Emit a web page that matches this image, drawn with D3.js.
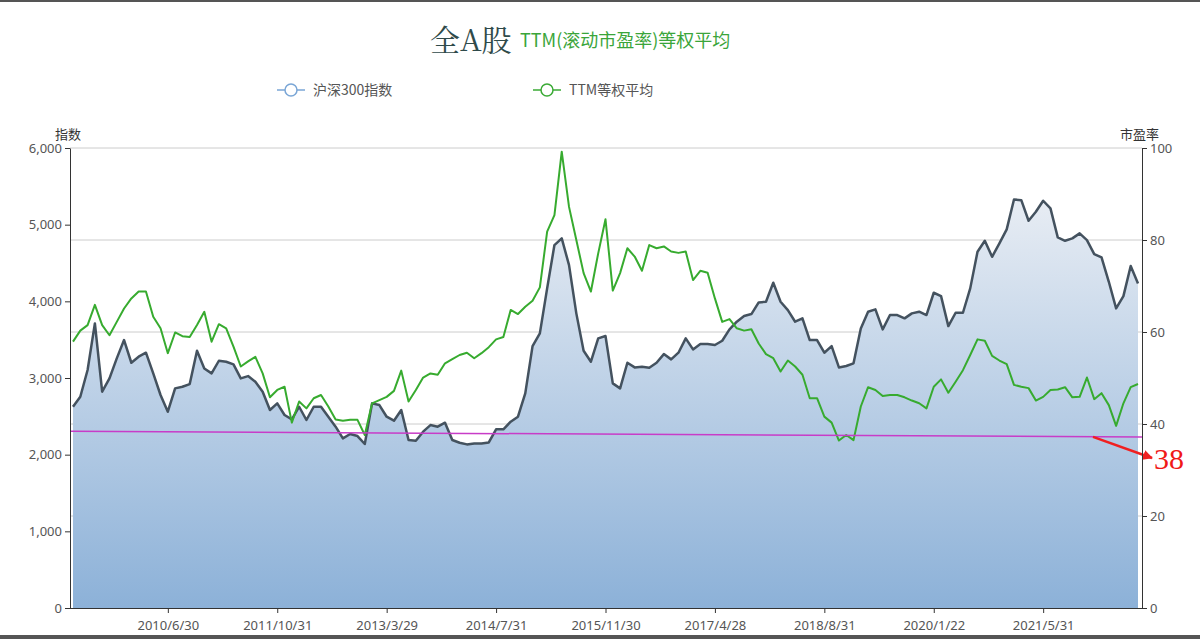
<!DOCTYPE html>
<html><head><meta charset="utf-8">
<script src="https://cdn.jsdelivr.net/npm/d3@7"></script>
<style>body{margin:0;background:#fff;}svg{display:block;font-family:"Noto Sans CJK SC","Noto Sans",sans-serif;}</style>
</head><body><svg id="c" width="1200" height="639"></svg>
<script>
const hs300 = [2625,2756,3104,3712,2821,2995,3256,3495,3199,3278,3330,3060,2778,2560,2865,2886,2921,3356,3125,3060,3225,3212,3178,2995,3025,2951,2821,2582,2669,2517,2460,2625,2452,2625,2625,2495,2365,2213,
2269,2243,2139,2669,2647,2495,2443,2582,2191,2182,2300,2386,2365,2417,2191,2156,2134,2147,2147,2160,2330,2330,2430,2495,2799,3416,3582,4169,4734,4821,4473,3843,3356,3212,3517,3547,
2930,2865,3199,3138,3147,3134,3199,3312,3243,3330,3517,3373,3443,3443,3430,3486,3634,3734,3808,3834,3986,3995,4242,3995,3886,3734,3778,3495,3495,3330,3416,3138,3156,3191,3647,3865,3895,3634,
3821,3821,3778,3843,3865,3821,4112,4068,3677,3851,3851,4169,4647,4790,4581,4755,4938,5329,5320,5051,5168,5312,5212,4834,4790,4821,4886,4799,4616,4573,4255,3908,4068,4460,4234];
const pe = [57.9,60.3,61.5,65.9,61.5,59.3,62.2,65.1,67.3,68.8,68.8,63.3,60.8,55.4,59.9,59.1,58.9,61.5,64.4,57.9,61.7,60.8,56.8,52.5,53.6,54.6,51.0,45.8,47.4,48.1,40.3,44.9,43.4,45.6,46.3,43.8,41.0,40.7,
40.9,40.9,37.6,44.5,45.2,45.9,47.2,51.6,44.9,47.4,50.1,51.0,50.7,53.2,54.1,55.0,55.5,54.3,55.4,56.7,58.4,58.9,64.8,63.9,65.5,66.8,69.7,81.8,85.4,99.2,87.2,80.0,72.8,68.8,77.1,84.5,
69.0,72.8,78.2,76.4,73.3,78.9,78.2,78.6,77.5,77.2,77.5,71.3,73.3,72.9,67.3,62.2,62.8,60.8,60.3,60.6,57.5,55.2,54.3,51.4,53.8,52.5,50.7,45.6,45.6,41.6,40.3,36.4,37.6,36.5,43.8,48.0,47.4,46.1,
46.3,46.3,45.8,45.1,44.5,43.4,48.1,49.7,46.8,49.2,51.7,55.0,58.4,58.1,54.8,53.8,53.0,48.5,48.1,47.8,45.1,45.9,47.4,47.5,48.0,45.8,45.9,50.1,45.4,46.7,44.1,39.6,44.5,48.0,48.7];
const tickLabels = ["2010/6/30","2011/10/31","2013/3/29","2014/7/31","2015/11/30","2017/4/28","2018/8/31","2020/1/22","2021/5/31"];
const tickIndex = [13,28,43,58,73,88,103,118,133];
const refLine = [38.4, 37.2];
const refLabel = "38";

const svg = d3.select("#c");
const L=70,R=1142,T=148,B=608;
const x = d3.scaleLinear().domain([0,hs300.length-1]).range([73,1138]);
const yL = d3.scaleLinear().domain([0,6000]).range([B,T]);
const yR = d3.scaleLinear().domain([0,100]).range([B,T]);

svg.append("rect").attr("x",0).attr("y",0).attr("width",1200).attr("height",2).attr("fill","#555");
svg.append("rect").attr("x",0).attr("y",635).attr("width",1200).attr("height",4).attr("fill","#555");

const defs = svg.append("defs");
const g = defs.append("linearGradient").attr("id","ag").attr("gradientUnits","userSpaceOnUse").attr("x1",0).attr("y1",T).attr("x2",0).attr("y2",B);
g.append("stop").attr("offset","0").attr("stop-color","#f3f4f7");
g.append("stop").attr("offset","1").attr("stop-color","#8cb1d8");

// grid
yR.ticks(5).forEach(t=>{ if(t>0) svg.append("line").attr("x1",L).attr("x2",R).attr("y1",yR(t)).attr("y2",yR(t)).attr("stroke","#ccc"); });

svg.append("path").datum(hs300).attr("fill","url(#ag)")
 .attr("d",d3.area().x((d,i)=>x(i)).y0(B).y1(d=>yL(d)));

svg.append("path").datum(hs300).attr("fill","none").attr("stroke","#44525f").attr("stroke-width",2.5).attr("stroke-linejoin","round")
 .attr("d",d3.line().x((d,i)=>x(i)).y(d=>yL(d)));
svg.append("path").datum(pe).attr("fill","none").attr("stroke","#37ab2f").attr("stroke-width",2).attr("stroke-linejoin","round")
 .attr("d",d3.line().x((d,i)=>x(i)).y(d=>yR(d)));

// ref line
svg.append("line").attr("x1",L).attr("x2",R).attr("y1",yR(refLine[0])).attr("y2",yR(refLine[1])).attr("stroke","#c83cc8").attr("stroke-width",1.5);
defs.append("marker").attr("id","ar").attr("viewBox","0 0 10 10").attr("refX",9).attr("refY",5).attr("markerWidth",4).attr("markerHeight",4).attr("orient","auto")
 .append("path").attr("d","M0,0L10,5L0,10z").attr("fill","#f02020");
svg.append("line").attr("x1",1093).attr("y1",yR(refLine[1])).attr("x2",1152).attr("y2",458).attr("stroke","#f02020").attr("stroke-width",2.5).attr("marker-end","url(#ar)");
svg.append("text").attr("x",1154).attr("y",469).attr("fill","#f01818").attr("font-size",30).attr("font-family","Liberation Serif,serif").text(refLabel);

// axes
const ax = svg.append("g").attr("transform",`translate(${L},0)`).call(d3.axisLeft(yL).tickValues(d3.range(0,6001,1000)).tickFormat(d3.format(",")).tickSize(5).tickSizeOuter(0));
const ar = svg.append("g").attr("transform",`translate(${R},0)`).call(d3.axisRight(yR).ticks(5).tickSize(5).tickSizeOuter(0));
const xb = svg.append("g").attr("transform",`translate(0,${B})`).call(d3.axisBottom(x).tickValues(tickIndex).tickFormat((d,i)=>tickLabels[i]).tickSize(5).tickSizeOuter(0));
xb.select(".domain").attr("d",`M${L},0.5H${R}`);
[ax,ar,xb].forEach(a=>{a.selectAll("path,line").attr("stroke","#333");a.selectAll("text").attr("fill","#555").attr("font-size",13).attr("font-family","Noto Sans,sans-serif");});
xb.selectAll("text").attr("dy","1.1em");

svg.append("text").attr("x",55).attr("y",139).attr("font-size",13).attr("fill","#333").text("指数");
svg.append("text").attr("x",1120).attr("y",139).attr("font-size",13).attr("fill","#333").text("市盈率");

// title
svg.append("text").attr("x",430).attr("y",51).attr("font-size",30).attr("fill","#2f4a4a").attr("font-family","Noto Serif CJK SC,Noto Sans CJK SC,serif").text("全A股");
svg.append("text").attr("x",520).attr("y",47).attr("font-size",18).attr("fill","#3aa53a").text("TTM(滚动市盈率)等权平均");

// legend
[[277,"沪深300指数","#7aa6d6"],[533,"TTM等权平均","#3aaa35"]].forEach(([lx,t,c])=>{
 svg.append("line").attr("x1",lx).attr("x2",lx+28).attr("y1",90).attr("y2",90).attr("stroke",c).attr("stroke-width",1.5);
 svg.append("circle").attr("cx",lx+14).attr("cy",90).attr("r",6).attr("fill","#fff").attr("stroke",c).attr("stroke-width",1.5);
 svg.append("text").attr("x",lx+36).attr("y",95).attr("font-size",14).attr("fill","#555").text(t);
});
</script></body></html>
